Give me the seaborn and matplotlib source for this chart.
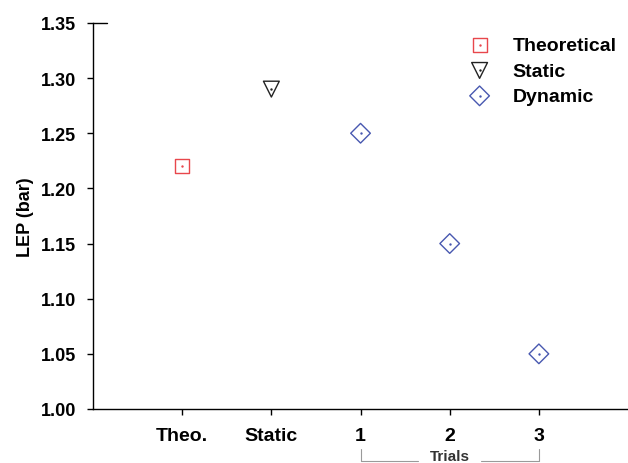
import pandas as pd
import matplotlib.pyplot as plt
import matplotlib.transforms as mtransforms
import seaborn as sns

# chart data
categories = ["Theo.", "Static", "1", "2", "3"]
theo_x = ["Theo."]
theo_y = [1.22]
static_x = ["Static"]
static_y = [1.29]
dynamic_x = ["1", "2", "3"]
dynamic_y = [1.25, 1.15, 1.05]

sns.set_style("ticks")
plt.rcParams["font.family"] = ["Liberation Sans", "DejaVu Sans"]
plt.rcParams["font.weight"] = "bold"
plt.rcParams["text.color"] = "black"
plt.rcParams["axes.labelcolor"] = "black"
plt.rcParams["xtick.labelcolor"] = "black"
plt.rcParams["ytick.labelcolor"] = "black"

red = "#e8474c"
black = "#222222"
blue = "#4858b0"

fig = plt.figure(figsize=(6.28, 4.64), dpi=100)
ax = fig.add_axes([0.1481, 0.1164, 0.852, 0.832])

# fix category order on x
sns.scatterplot(x=categories, y=[None] * len(categories), ax=ax, legend=False)

series = [
    ("Theoretical", theo_x, theo_y, "s", 100, red),
    ("Static", static_x, static_y, "v", 130, black),
    ("Dynamic", dynamic_x, dynamic_y, "D", 100, blue),
]
handles = []
for name, xs, ys, mk, size, col in series:
    df = pd.DataFrame({"x": xs, "y": ys})
    sns.scatterplot(data=df, x="x", y="y", marker=mk, s=size, facecolor="none",
                    edgecolor=col, linewidth=1.0, ax=ax, legend=False)
    sns.scatterplot(data=df, x="x", y="y", marker="o", s=3, color=col,
                    linewidth=0, ax=ax, legend=False)
    h1 = ax.scatter([], [], marker=mk, s=size, facecolor="none", edgecolor=col, linewidth=1.0)
    h2 = ax.scatter([], [], marker="o", s=3, color=col, linewidth=0)
    handles.append(((h1, h2), name))

ax.legend([h for h, _ in handles], [n for _, n in handles], loc="upper left",
          frameon=False, fontsize=14, handletextpad=0.9, labelspacing=0.4,
          handlelength=1.6, bbox_to_anchor=(0.668, 1.0), borderaxespad=0.3)

ax.set_xlim(-1, 5)
ax.set_ylim(1.0, 1.35)
ax.set_yticks([1.00, 1.05, 1.10, 1.15, 1.20, 1.25, 1.30, 1.35])
ax.set_yticklabels([f"{v:.2f}" for v in ax.get_yticks()])
ax.set_xlabel("")
ax.set_ylabel("LEP (bar)", fontsize=13, fontweight="bold", labelpad=5)
ax.tick_params(axis="both", length=4.3, width=1, color="black")
ax.tick_params(axis="y", labelsize=13, pad=8)
ax.tick_params(axis="x", labelsize=14, pad=9)
for lab in ax.get_xticklabels() + ax.get_yticklabels():
    lab.set_fontweight("bold")
for sp in ["left", "bottom"]:
    ax.spines[sp].set_color("black")
    ax.spines[sp].set_linewidth(1)
sns.despine(ax=ax)

# short cap at the top of the y axis
ax.plot([0, 0.027], [1, 1], color="black", lw=1, transform=ax.transAxes, clip_on=False)

# Trials bracket under the trial ticks
trans = mtransforms.blended_transform_factory(ax.transData, fig.transFigure)
gray = "#9a9a9a"
y_top, y_bot = 1 - 450 / 464, 1 - 462 / 464
ax.plot([2, 2, 2.65], [y_top, y_bot, y_bot], color=gray, lw=0.8, transform=trans, clip_on=False)
ax.plot([3.35, 4, 4], [y_bot, y_bot, y_top], color=gray, lw=0.8, transform=trans, clip_on=False)
ax.text(3, 1 - 457 / 464, "Trials", transform=trans, ha="center", va="center",
        fontsize=11, fontweight="bold", color="#333333")

fig.savefig("out.png", dpi=100)
